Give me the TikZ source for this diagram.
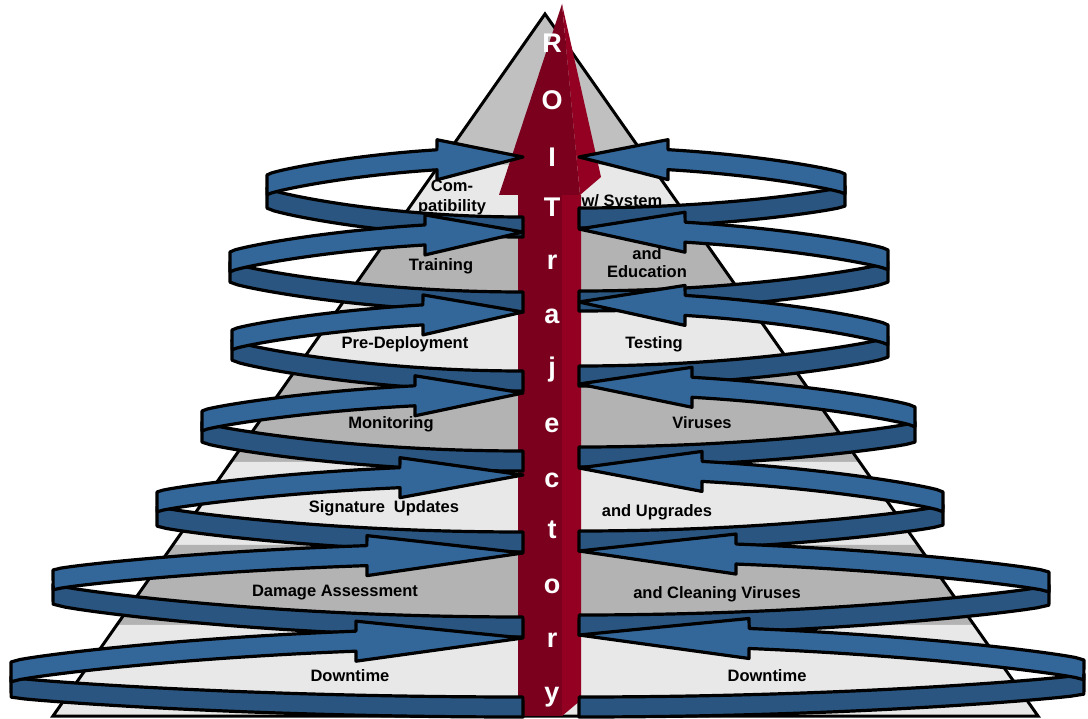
\documentclass[tikz,border=0pt]{standalone}
\usepackage{fontspec}
\setmainfont{Liberation Sans}
\usetikzlibrary{calc}
\definecolor{ribfront}{RGB}{51,102,153}
\definecolor{ribback}{RGB}{42,85,128}
\definecolor{roidark}{RGB}{122,0,30}
\definecolor{roilight}{RGB}{148,0,33}
\definecolor{bandlt}{RGB}{232,232,232}
\definecolor{banddk}{RGB}{179,179,179}
\definecolor{bandtop}{RGB}{192,192,192}
\tikzset{
  pyr/.style={draw=black,line width=3pt,line join=miter},
  rib/.style={draw=black,line width=3.2pt,line join=round},
  ribf/.style={rib,fill=ribfront},
  ribb/.style={rib,fill=ribback},
  lvl/.style={font=\fontsize{16.5}{19}\selectfont\bfseries,anchor=base,inner sep=0pt},
  roiltr/.style={font=\fontsize{27}{30}\selectfont\bfseries,text=white,anchor=base,inner sep=0pt},
  declare function={bend(\t)=0.75*(1-\t*\t)+0.25*sqrt(max(0,1-\t*\t));},
}

\begin{document}
\begin{tikzpicture}[x=1pt,y=-1pt]
\useasboundingbox (0,0) rectangle (1088,719);
% the pyramid: bands cut from one triangle
\coordinate (apex) at (545,14);
\coordinate (bl) at (53,716);
\coordinate (br) at (1038,716);
\foreach \ya/\yb/\col in {14/165/bandtop,165/230/bandlt,230/292/banddk,292/375/bandlt,
    375/462/banddk,462/545/bandlt,545/625/banddk,625/716/bandlt}
  \fill[\col] ($(apex)!{(\ya-14)/702}!(bl)$) -- ($(apex)!{(\yb-14)/702}!(bl)$)
    -- ($(apex)!{(\yb-14)/702}!(br)$) -- ($(apex)!{(\ya-14)/702}!(br)$) -- cycle;
\draw[pyr] (apex) -- (bl) -- (br) -- cycle;

\node[lvl] (cmpa) at (452,192) {Com-};
\node[lvl] (cmpb) at (452,212) {patibility};
\node[lvl] (sys) at (622,207) {w/ System};
\node[lvl] (trn) at (441,271) {Training};
\node[lvl] (edua) at (647,260) {and};
\node[lvl] (edub) at (647,278) {Education};
\node[lvl] (pre) at (405,349) {Pre-Deployment};
\node[lvl] (tst) at (654,349) {Testing};
\node[lvl] (mon) at (391,429) {Monitoring};
\node[lvl] (vir) at (702,429) {Viruses};
\node[lvl] (sig) at (384,512) {Signature\hspace{9pt}Updates};
\node[lvl] (upg) at (657,516) {and Upgrades};
\node[lvl] (dmg) at (335,596) {Damage Assessment};
\node[lvl] (cln) at (717,598) {and Cleaning Viruses};
\node[lvl] (dwnl) at (350,681) {Downtime};
\node[lvl] (dwnr) at (767,681) {Downtime};

% the ROI arrow
\fill[roidark] (518,195) -- (562,195) -- (562,716) -- (518,716) -- cycle;
\fill[roilight] (562,195) -- (581,195) -- (581,700) -- (562,716) -- cycle;
\fill[roidark] (499,195) -- (562,4) -- (580,195) -- cycle;
\fill[roilight] (562,4) -- (601,177) -- (580,195) -- cycle;

% spiral: each half turn is a back strip (shaft -> turn) and a front strip
% (turn -> arrow head at the shaft); s=1 left side, s=-1 right side
\foreach \s/\xs/\xl/\yl/\yt/\xh/\yd/\ye in {
    1/523/267/185/157/437/198/227, 1/523/230/262/232/425/272/302,
    1/523/232/340/312/423/350/381, 1/523/202/421/393/415/432/461,
    1/523/157/502/475/400/516/542, 1/523/53/580/553/367/594/627,
    1/523/11/672/638/356/687/707,
    -1/579/845/184/157/668/196/218, -1/579/888/260/229/685/272/301,
    -1/579/888/335/302/685/347/376, -1/579/915/417/384/692/432/457,
    -1/579/943/502/468/702/515/541, -1/579/1049/582/551/736/595/625,
    -1/579/1084/670/635/749/684/707}{
  \pgfmathsetmacro\ra{abs(\xs-\xl)}
  \pgfmathsetmacro\rb{\yl-\yt}
  \pgfmathsetmacro\rd{\ye-\yd}
  \pgfmathsetmacro\th{abs(\xs-\xh)/\ra}
  \pgfmathsetmacro\yh{\yl-\rb*bend(\th)}
  \draw[ribb] plot[domain=1:0,samples=40] ({\xs-(\s)*\ra*\x},{\yd-10+\rd*bend(\x)})
    -- plot[domain=0:1,samples=40] ({\xs-(\s)*\ra*\x},{\yd+10+\rd*bend(\x)}) -- cycle;
  \draw[ribf] plot[domain=1:\th,samples=40] ({\xs-(\s)*\ra*\x},{\yl-10-\rb*bend(\x)})
    -- (\xh,\yh-20) -- (\xs,\yt) -- (\xh,\yh+20)
    -- plot[domain=\th:1,samples=40] ({\xs-(\s)*\ra*\x},{\yl+10-\rb*bend(\x)}) -- cycle;
}

\foreach \c/\yy [count=\n] in {R/53,O/110,I/167,T/217,r/270,a/324,j/377,e/432,
    c/487,t/538,o/593,r/647,y/701}
  \node[roiltr] (roi\n) at (552,\yy) {\c};
\end{tikzpicture}
\end{document}
